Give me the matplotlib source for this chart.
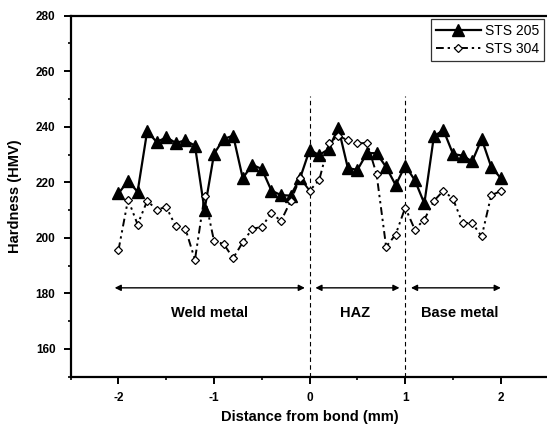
import matplotlib
matplotlib.use('Agg')
import matplotlib.pyplot as plt
from matplotlib.ticker import MultipleLocator

plt.rcParams['font.family'] = ['Liberation Sans', 'DejaVu Sans']
plt.rcParams['axes.unicode_minus'] = False

# distance from bond (mm)
dist = [-2.0, -1.9, -1.8, -1.7, -1.6, -1.5, -1.4, -1.3, -1.2, -1.1,
        -1.0, -0.9, -0.8, -0.7, -0.6, -0.5, -0.4, -0.3, -0.2, -0.1,
        0.0, 0.1, 0.2, 0.3, 0.4, 0.5, 0.6, 0.7, 0.8, 0.9,
        1.0, 1.1, 1.2, 1.3, 1.4, 1.5, 1.6, 1.7, 1.8, 1.9, 2.0]

sts205 = [216, 220.5, 216.6, 238.4, 234.5, 236.2, 234.2, 235.1, 233.2, 210,
          230.3, 235.6, 236.8, 221.5, 226.3, 224.8, 217, 215.4, 215.2, 221.5,
          231.7, 229.8, 232, 239.7, 225.1, 224.5, 230.5, 230.5, 225.5, 219,
          226, 220.8, 212.4, 236.6, 238.8, 230.2, 229.6, 227.5, 235.6, 225.5, 221.5]

sts304 = [195.6, 213.8, 204.8, 213.3, 210.2, 211.1, 204.1, 203.3, 192.1, 215.1,
          198.8, 197.8, 192.7, 198.4, 203.3, 203.9, 209.1, 206, 213.2, 221.5,
          217, 220.8, 234, 236.8, 235.1, 234, 234.2, 223, 196.8, 201.2,
          210.9, 203, 206.6, 213.3, 217, 214, 205.3, 205.4, 200.5, 215.4, 216.8]

zone_bounds = [0, 1]
zones = ['Weld metal', 'HAZ', 'Base metal']
zone_arrows = [(-2.04, -0.05), (0.06, 0.94), (1.06, 2.0)]
zone_text_x = [-1.045, 0.47, 1.57]

fig = plt.figure(figsize=(5.47, 4.32), dpi=100)
ax = fig.add_axes([70.7 / 547, 1 - 376.7 / 432, (548.6 - 70.7) / 547, (376.7 - 15.7) / 432])

ax.plot(dist, sts205, '-', color='black', lw=1.6, marker='^', ms=8,
        mfc='black', mec='black', label='STS 205', zorder=3)
ax.plot(dist, sts304, color='black', lw=1.4, dashes=(4, 2, 1.2, 2, 1.2, 2),
        marker='D', ms=4.5, mfc='white', mec='black', mew=0.9,
        label='STS 304', zorder=4)

for xb in zone_bounds:
    ax.plot([xb, xb], [150, 251], color='black', lw=0.8, dashes=(4, 3), zorder=2)

for (x0, x1), name, tx in zip(zone_arrows, zones, zone_text_x):
    ax.annotate('', xy=(x0, 182), xytext=(x1, 182),
                arrowprops=dict(arrowstyle='<|-|>', color='black', lw=1.0,
                                mutation_scale=9, shrinkA=0, shrinkB=0))
    ax.text(tx, 172.9, name, ha='center', va='center', fontsize=10.5, fontweight='bold')

ax.set_xlim(-2.5, 2.5)
ax.set_ylim(150, 280)
ax.xaxis.set_major_locator(MultipleLocator(1))
ax.xaxis.set_minor_locator(MultipleLocator(0.5))
ax.yaxis.set_major_locator(MultipleLocator(20))
ax.yaxis.set_minor_locator(MultipleLocator(10))
ax.set_yticks([160, 180, 200, 220, 240, 260, 280])
ax.tick_params(which='major', direction='out', length=5, width=1.4, labelsize=8.5, pad=6)
ax.tick_params(which='minor', direction='out', length=2.5, width=1.2)
for lab in ax.get_xticklabels() + ax.get_yticklabels():
    lab.set_fontweight('bold')

for side in ['left', 'bottom', 'top']:
    ax.spines[side].set_linewidth(1.6)
ax.spines['right'].set_visible(False)

ax.set_xlabel('Distance from bond (mm)', fontsize=10.5, fontweight='bold', labelpad=4)
ax.set_ylabel('Hardness (HMV)', fontsize=10.5, fontweight='bold', labelpad=10)

leg = ax.legend(loc='upper right', bbox_to_anchor=(544 / 547, 1 - 19 / 432),
                bbox_transform=fig.transFigure, borderaxespad=0, fontsize=10,
                handlelength=3.2, frameon=True, fancybox=False, borderpad=0.35,
                labelspacing=0.3, handletextpad=0.3)
leg.get_frame().set_edgecolor('black')
leg.get_frame().set_linewidth(0.9)

fig.savefig('out.png', dpi=100)
